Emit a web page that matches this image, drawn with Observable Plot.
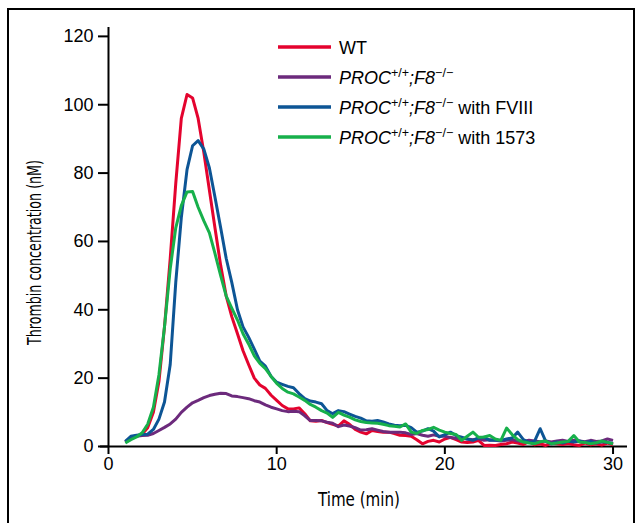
<!DOCTYPE html>
<html><head><meta charset="utf-8">
<script src="https://cdn.jsdelivr.net/npm/d3@7"></script>
<script src="https://cdn.jsdelivr.net/npm/@observablehq/plot@0.6"></script>
<style>
html,body{margin:0;padding:0;background:#fff;overflow:hidden;}
#wrap{position:relative;width:641px;height:523px;overflow:hidden;}
#wrap svg{position:absolute;left:0;top:0;}
#frame{position:absolute;left:7px;top:8px;width:628px;height:560px;border:2px solid #000;box-sizing:border-box;pointer-events:none;}
</style></head><body><div id="wrap"></div>
<script>
// Time points (min)
const times = [1.00,1.33,1.67,2.00,2.33,2.67,3.00,3.33,3.67,4.00,4.33,4.67,
5.00,5.33,5.67,6.00,6.33,6.67,7.00,7.33,7.67,8.00,8.33,8.67,
9.00,9.33,9.67,10.00,10.33,10.67,11.00,11.33,11.67,12.00,12.33,12.67,
13.00,13.33,13.67,14.00,14.33,14.67,15.00,15.33,15.67,16.00,16.33,16.67,
17.00,17.33,17.67,18.00,18.33,18.67,19.00,19.33,19.67,20.00,20.33,20.67,
21.00,21.33,21.67,22.00,22.33,22.67,23.00,23.33,23.67,24.00,24.33,24.67,
25.00,25.33,25.67,26.00,26.33,26.67,27.00,27.33,27.67,28.00,28.33,28.67,
29.00,29.33,29.67,30.00];

// Thrombin concentration (nM)
const wt = [1.3,2.3,3.0,3.6,5.5,10,19,35,55,77,96,103,
102,96,86,75,64,53,44,38,33,28,24,20,
18,17,15,13.5,12,11,11,11.3,9.6,7.5,7.4,7.6,
7,6.5,6,7.5,6.5,5,4.2,3.7,4.7,4.4,4.2,4.2,
3.8,3.3,3.2,3.0,2.0,0.8,1.5,1.8,1.3,2.2,2.7,2.0,
1.3,1.2,1.3,1.8,0.3,0.4,0.3,0.6,0.8,1.3,1.0,0.6,
1.4,0.5,0.8,0.3,1.0,0.8,0.6,0.9,0.5,0.3,1.0,0.5,
0.8,0.4,1.0,0.5];

const proc = [1.3,2.5,3.0,3.2,3.3,3.8,4.7,5.6,6.6,8.0,10.0,11.5,
12.8,13.5,14.3,14.9,15.3,15.6,15.5,14.8,14.6,14.3,14.0,13.4,
13.0,12.2,11.5,11.0,10.5,10.2,10.3,10.2,9.0,7.6,7.6,7.5,
7.1,6.8,5.8,6.3,6.0,5.5,4.8,4.9,5.2,4.8,4.4,4.2,
4.2,4.2,4.0,3.5,3.8,3.3,3.0,3.4,3.0,3.0,2.6,2.4,
2.5,2.2,2.0,2.3,1.8,2.0,1.8,1.6,1.8,2.0,1.6,1.5,
1.8,1.6,1.4,1.6,1.3,1.6,1.8,1.5,1.8,1.6,1.4,1.8,
1.5,1.6,2.2,1.8];

const fviii = [1.5,3.0,3.3,3.5,3.6,5.0,8.0,13,24,48,67,81,
88,89.5,87,81.5,73,64,55,48,40,35,32,28.5,
25,23.5,20.5,18.8,18.2,17.6,17.2,15.5,14,13.3,13,12.5,
10.5,9.6,10.5,10.2,9.5,8.8,8.3,7.5,7.4,7.6,7.2,6.6,
6.2,6.1,6.2,5.5,4.2,4.5,5.2,4.5,2.8,3.5,4.2,3.2,
2.7,2.2,1.8,2.5,2.7,1.8,1.8,1.8,2.2,2.5,4.2,2.0,
1.2,1.5,5.2,1.5,0.8,1.3,1.0,1.5,1.3,1.6,1.2,1.5,
1.0,1.4,1.2,0.9];

const c1573 = [1.0,2.0,2.8,4.0,6.5,11.5,21,35,52,64,70.5,74.5,
74.6,70,66,62.5,56.5,50,44,40.5,37,33,30,26.5,
24.3,22.8,20.5,18.5,17,15.9,15.4,14.5,13.5,12.3,11.5,10.5,
9.8,8.5,10.0,9.2,8.6,7.8,7.3,7.0,6.9,6.8,6.5,6.1,
5.9,5.7,6.6,4.2,3.8,4.7,5.0,5.6,4.8,4.2,3.8,3.5,
1.8,3.0,4.2,2.7,2.8,3.2,2.2,1.8,5.4,3.5,2.0,1.3,
1.0,0.8,1.4,1.6,0.8,1.0,1.3,1.5,3.2,1.3,1.2,0.8,
1.1,1.6,1.2,0.8];

const seriesKeys = ["WT", "PROC", "FVIII", "1573"];
const seriesColors = ["#e4032e", "#6c2a7c", "#0d5595", "#17b04b"];
const xTicks = [0, 10, 20, 30];
const yTicks = [0, 20, 40, 60, 80, 100, 120];
const xTitle = "Time (min)";
const yTitle = "Thrombin concentration (nM)";

const seriesValues = [wt, proc, fviii, c1573];
const data = [];
seriesKeys.forEach((k, si) => {
  seriesValues[si].forEach((v, i) => data.push({s: k, t: times[i], v}));
});

const chart = Plot.plot({
  width: 641, height: 523,
  marginLeft: 100, marginRight: 14, marginTop: 27, marginBottom: 77,
  x: {domain: [-0.475, 30.86]},
  y: {domain: [0, 122.6]},
  color: {domain: seriesKeys, range: seriesColors},
  style: {fontFamily: "'Liberation Sans', Arial, Helvetica, sans-serif", fontSize: "18px", background: "transparent", color: "#000", overflow: "visible"},
  marks: [
    Plot.axisX({ticks: xTicks, tickSize: 8, tickPadding: 3, strokeWidth: 2, label: null, fontSize: 18}),
    Plot.axisY({ticks: yTicks, tickSize: 10, tickPadding: 5, dx: 8, strokeWidth: 2, label: null, fontSize: 18}),
    Plot.ruleY([0], {strokeWidth: 2}),
    Plot.ruleX([0], {strokeWidth: 2}),
    Plot.line(data, {x: "t", y: "v", z: "s", stroke: "s", strokeWidth: 3, strokeLinejoin: "round", strokeLinecap: "butt"})
  ]
});

document.getElementById("wrap").appendChild(chart);
const fr = document.createElement("div"); fr.id = "frame";
document.getElementById("wrap").appendChild(fr);

const svg = d3.select(chart);
const condensed = "'Liberation Sans Narrow', 'DejaVu Sans Condensed', 'Liberation Sans', Arial, sans-serif";
svg.append("text").text(xTitle)
  .attr("x", 359).attr("y", 506).attr("text-anchor", "middle")
  .attr("font-family", condensed).attr("font-size", 20).attr("font-stretch", "condensed")
  .attr("textLength", 82).attr("lengthAdjust", "spacingAndGlyphs").attr("fill", "#000");
svg.append("text").text(yTitle)
  .attr("transform", "translate(41,252.5) rotate(-90)").attr("text-anchor", "middle")
  .attr("font-family", condensed).attr("font-size", 19).attr("font-stretch", "condensed")
  .attr("textLength", 185).attr("lengthAdjust", "spacingAndGlyphs").attr("fill", "#000");

// Legend
const legendParts = [
  [{t: "WT"}],
  [{t: "PROC", i: 1}, {t: "+/+", sup: 1}, {t: ";F8", i: 1}, {t: "\u2212/\u2212", sup: 1}],
  [{t: "PROC", i: 1}, {t: "+/+", sup: 1}, {t: ";F8", i: 1}, {t: "\u2212/\u2212", sup: 1}, {t: " with FVIII"}],
  [{t: "PROC", i: 1}, {t: "+/+", sup: 1}, {t: ";F8", i: 1}, {t: "\u2212/\u2212", sup: 1}, {t: " with 1573"}]
];
const lg = svg.append("g").attr("font-family", "'Liberation Sans', Arial, sans-serif").attr("font-size", 18).attr("text-anchor", "start");
legendParts.forEach((parts, r) => {
  const y = 47 + r * 30;
  lg.append("line").attr("x1", 278).attr("x2", 331).attr("y1", y).attr("y2", y)
    .attr("stroke", seriesColors[r]).attr("stroke-width", 3.5);
  const tx = lg.append("text").attr("x", 339).attr("y", y + 6.5).attr("text-anchor", "start").attr("fill", "#000").style("white-space", "pre");
  let up = false;
  parts.forEach(p => {
    const ts = tx.append("tspan").text(p.t);
    if (p.i) ts.attr("font-style", "italic");
    if (p.sup) { ts.attr("font-size", 12.5).attr("dy", -7); up = true; }
    else if (up) { ts.attr("dy", 7); up = false; }
  });
});
</script>
</body></html>
